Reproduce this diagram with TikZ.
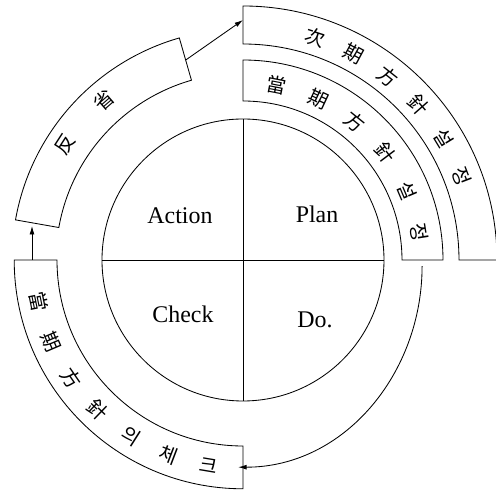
\documentclass[tikz,border=0pt]{standalone}
\usepackage{fontspec}
\setmainfont{Liberation Serif}
\newfontfamily\cjk{Noto Sans CJK KR}
\usetikzlibrary{arrows.meta}

\begin{document}
\begin{tikzpicture}[
    band/.style={draw, line width=0.6pt},
    hanja/.style={font=\cjk\fontsize{14}{14}\selectfont, inner sep=0pt},
    quad/.style={font=\fontsize{17}{17}\selectfont},
    flow/.style={line width=0.6pt, -{Latex[length=6pt,width=3.5pt]}}
  ]
  \useasboundingbox (-6.075,-5.75) rectangle (6.325,6.5);
  % PDCA circle
  \draw[band] (0,0) circle (3.525);
  \draw[band] (-3.525,0) -- (3.525,0);
  \draw[band] (0,-3.525) -- (0,3.525);
  \node[quad] (action) at (-1.575, 1.1)  {Action};
  \node[quad] (plan)   at ( 1.85,  1.15) {Plan};
  \node[quad] (check)  at (-1.5,  -1.35) {Check};
  \node[quad] (do)     at ( 1.8,  -1.5)  {Do.};
  % Band 1: next period policy (outer right)
  \draw[band] (90:6.35) arc[start angle=90, end angle=0, radius=6.35]
    -- (0:5.4) arc[start angle=0, end angle=90, radius=5.4] -- cycle;
  % Band 2: current period policy (inner right)
  \draw[band] (90:5.0) arc[start angle=90, end angle=0, radius=5.0]
    -- (0:3.975) arc[start angle=0, end angle=90, radius=3.975] -- cycle;
  % Band 3: check (lower left)
  \draw[band] (180:5.72) arc[start angle=180, end angle=270, radius=5.72]
    -- (270:4.65) arc[start angle=270, end angle=180, radius=4.65] -- cycle;
  % Band 4: reflection (upper left)
  \draw[band] (106:5.775) arc[start angle=106, end angle=170, radius=5.775]
    -- (170:4.675) arc[start angle=170, end angle=106, radius=4.675] -- cycle;
  % Band texts
  \foreach \ch [count=\i] in {次,期,方,針,설,정} {
    \pgfmathsetmacro\ang{72-10.2*(\i-1)}
    \node[hanja, rotate=\ang-90] (next\i) at (\ang:5.85) {\ch};
  }
  \foreach \ch [count=\i] in {當,期,方,針,설,정} {
    \pgfmathsetmacro\ang{79-14*(\i-1)}
    \node[hanja, rotate=\ang-90] (cur\i) at (\ang:4.45) {\ch};
  }
  \foreach \ch [count=\i] in {當,期,方,針,의,체,크} {
    \pgfmathsetmacro\ang{191.5+11.5*(\i-1)}
    \node[hanja, rotate=\ang+90] (chk\i) at (\ang:5.22) {\ch};
  }
  \node[hanja, rotate=57] (ref1) at (147:5.3) {反};
  \node[hanja, rotate=41] (ref2) at (131:5.3) {省};
  % Connectors
  \coordinate (curEnd)   at (-2:4.48);
  \coordinate (chkEnd)   at (-0.12,-5.18);
  \coordinate (chkTop)   at (-5.275,0);
  \coordinate (refBot)   at (-5.275,0.85);
  \coordinate (refTop)   at (106:5.2);
  \coordinate (nextBeg)  at (0,6.0);
  \draw[flow] (curEnd) to[out=-90, in=0] (chkEnd);
  \draw[flow] (chkTop) -- (refBot);
  \draw[flow] (refTop) -- (nextBeg);
\end{tikzpicture}
\end{document}
